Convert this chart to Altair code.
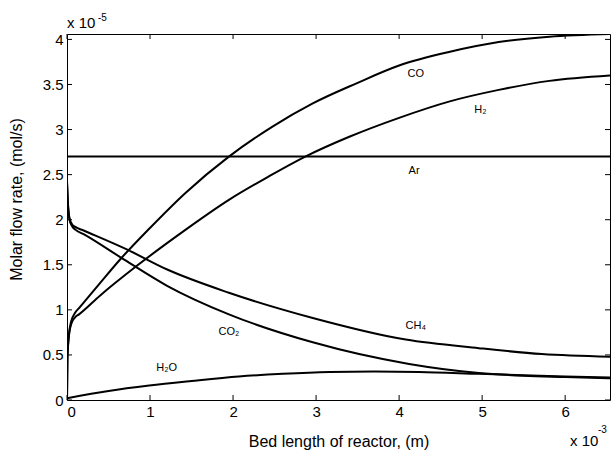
import altair as alt
import pandas as pd

# Bed length in units of 1e-3 m, molar flow rates in units of 1e-5 mol/s
co_x = [0, 0.005, 0.02, 0.05, 0.10, 0.145, 0.4, 0.65, 0.99, 1.43, 1.95, 2.47, 2.96, 3.48, 4.0, 4.6, 5.2, 5.81, 6.54]
co_y = [0, 0.45, 0.70, 0.87, 0.97, 1.02, 1.30, 1.57, 1.90, 2.30, 2.70, 3.03, 3.29, 3.51, 3.71, 3.86, 3.97, 4.03, 4.06]

h2_x = [0, 0.005, 0.02, 0.05, 0.10, 0.145, 0.4, 0.83, 1.43, 1.95, 2.43, 2.87, 3.40, 4.0, 4.6, 5.2, 5.81, 6.54]
h2_y = [0, 0.45, 0.68, 0.84, 0.92, 0.95, 1.16, 1.48, 1.89, 2.22, 2.48, 2.70, 2.92, 3.13, 3.31, 3.44, 3.54, 3.60]

ch4_x = [0, 0.01, 0.03, 0.06, 0.10, 0.2, 0.72, 1.2, 1.95, 2.96, 4.08, 4.96, 5.72, 6.54]
ch4_y = [2.42, 2.20, 2.02, 1.95, 1.92, 1.88, 1.67, 1.45, 1.19, 0.91, 0.67, 0.575, 0.51, 0.48]

co2_x = [0, 0.01, 0.03, 0.06, 0.10, 0.2, 0.65, 1.2, 1.95, 2.96, 4.12, 4.96, 5.5, 6.0, 6.54]
co2_y = [2.42, 2.20, 2.00, 1.93, 1.89, 1.84, 1.58, 1.27, 0.95, 0.64, 0.40, 0.30, 0.27, 0.255, 0.24]

h2o_x = [0, 0.5, 0.99, 1.5, 2.07, 2.6, 3.16, 3.7, 4.24, 4.96, 5.5, 6.0, 6.54]
h2o_y = [0.02, 0.10, 0.16, 0.21, 0.26, 0.29, 0.31, 0.315, 0.31, 0.29, 0.275, 0.26, 0.25]

ar_x = [0, 6.54]
ar_y = [2.70, 2.70]

x_ticks = [0, 1, 2, 3, 4, 5, 6]
y_ticks = [0, 0.5, 1, 1.5, 2, 2.5, 3, 3.5, 4]

# curve labels placed next to their lines
label_text = ["CO", "H₂", "Ar", "CH₄", "CO₂", "H₂O"]
label_x = [4.2, 4.98, 4.18, 4.2, 1.95, 1.2]
label_y = [3.62, 3.22, 2.54, 0.82, 0.75, 0.35]

series = {
    "CO": (co_x, co_y),
    "H2": (h2_x, h2_y),
    "CH4": (ch4_x, ch4_y),
    "CO2": (co2_x, co2_y),
    "H2O": (h2o_x, h2o_y),
    "Ar": (ar_x, ar_y),
}
rows = []
for name, (xs, ys) in series.items():
    for i, (a, b) in enumerate(zip(xs, ys)):
        rows.append({"species": name, "x": a, "y": b, "order": i})
curves = pd.DataFrame(rows)
labels = pd.DataFrame({"text": label_text, "x": label_x, "y": label_y})

W, H = 543, 366
FONT = "Liberation Sans"

xscale = alt.Scale(domain=[0, 6.54], nice=False, zero=False)
yscale = alt.Scale(domain=[0, 4.06], nice=False, zero=False)

lines = alt.Chart(curves).mark_line(
    color="black", strokeWidth=2, interpolate="monotone", clip=True
).encode(
    x=alt.X("x:Q", scale=xscale,
            axis=alt.Axis(values=x_ticks, format="~g", title="Bed length of reactor, (m)",
                          titleY=46, titleBaseline="alphabetic")),
    y=alt.Y("y:Q", scale=yscale,
            axis=alt.Axis(values=y_ticks, format="~g", title="Molar flow rate, (mol/s)",
                          titleX=-43, titleY=165)),
    detail="species:N",
    order="order:Q",
)

text_labels = alt.Chart(labels).mark_text(
    font=FONT, fontSize=11, color="black", align="center", baseline="middle"
).encode(x=alt.X("x:Q", scale=xscale), y=alt.Y("y:Q", scale=yscale), text="text:N")

# inward tick marks on all four sides of the box
xt = pd.DataFrame({"v": x_ticks})
yt = pd.DataFrame({"v": y_ticks})
tick_len = 5
bottom_ticks = alt.Chart(xt).mark_rule(color="black", strokeWidth=1).encode(
    x=alt.X("v:Q", scale=xscale), y=alt.value(H), y2=alt.value(H - tick_len))
top_ticks = alt.Chart(xt).mark_rule(color="black", strokeWidth=1).encode(
    x=alt.X("v:Q", scale=xscale), y=alt.value(0), y2=alt.value(tick_len))
left_ticks = alt.Chart(yt).mark_rule(color="black", strokeWidth=1).encode(
    y=alt.Y("v:Q", scale=yscale), x=alt.value(0), x2=alt.value(tick_len))
right_ticks = alt.Chart(yt).mark_rule(color="black", strokeWidth=1).encode(
    y=alt.Y("v:Q", scale=yscale), x=alt.value(W), x2=alt.value(W - tick_len))

def note(txt, x, y, size):
    return alt.Chart(pd.DataFrame({"t": [txt]})).mark_text(
        font=FONT, fontSize=size, color="black", align="left", baseline="alphabetic"
    ).encode(x=alt.value(x), y=alt.value(y), text="t:N")

# axis multipliers
exp_y = note("x 10", 0, -6, 15) + note("-5", 31, -13, 10)
exp_x = note("x 10", 503, 412, 15) + note("-3", 531, 399, 10)

chart = alt.layer(
    lines, text_labels, bottom_ticks, top_ticks, left_ticks, right_ticks, exp_y, exp_x
).properties(
    width=W, height=H,
    background="white",
    autosize=alt.AutoSizeParams(type="none"),
    padding={"left": 67, "top": 34, "right": 1, "bottom": 50},
).configure_view(
    stroke="black", strokeWidth=1
).configure_axis(
    grid=False, domain=False, ticks=False,
    labelFont=FONT, labelFontSize=15, labelColor="black", labelPadding=4,
    titleFont=FONT, titleFontSize=16, titleFontWeight="normal", titleColor="black",
)

chart.save("out.html", embed_options={"renderer": "svg", "actions": False})
